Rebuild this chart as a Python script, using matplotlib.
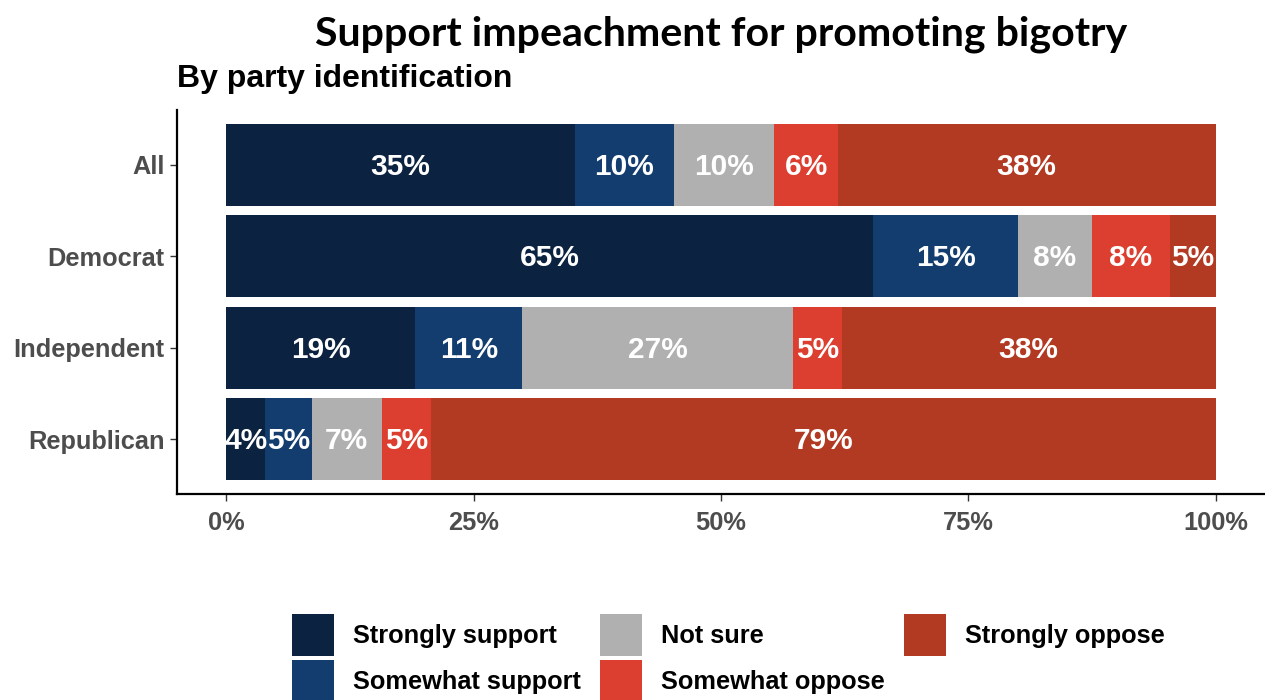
import matplotlib
matplotlib.use("Agg")
import matplotlib.pyplot as plt
from matplotlib.patches import Patch
import numpy as np

categories = ["All", "Democrat", "Independent", "Republican"]
responses = ["Strongly support", "Somewhat support", "Not sure", "Somewhat oppose", "Strongly oppose"]
strongly_support = [35.2, 65.4, 19.1, 3.9]
somewhat_support = [10.0, 14.6, 10.8, 4.7]
not_sure = [10.2, 7.5, 27.4, 7.1]
somewhat_oppose = [6.4, 7.9, 4.9, 5.0]
strongly_oppose = [38.2, 4.6, 37.8, 79.3]
colors = ["#0b2240", "#123d6e", "#b0b0b0", "#dc3e2f", "#b33a22"]

series = [strongly_support, somewhat_support, not_sure, somewhat_oppose, strongly_oppose]

plt.rcParams['font.family'] = ['Liberation Sans', 'DejaVu Sans']

fig = plt.figure(figsize=(12.65, 7), dpi=100)
ax = fig.add_axes([177/1265, 1-494/700, 1-177/1265, (494-110)/700])

y = np.arange(len(categories))[::-1]
left = np.zeros(len(categories))
for vals, col, name in zip(series, colors, responses):
    v = np.array(vals) / 100.0
    ax.barh(y, v, left=left, height=0.9, color=col, label=name, edgecolor='none')
    for yi, li, vi, raw in zip(y, left, v, vals):
        ax.text(li + vi/2, yi - 0.02, f"{round(raw):.0f}%", ha='center', va='center',
                color='white', fontsize=21.5, fontweight='bold')
    left = left + v

ax.set_xlim(-0.05, 1.05)
ax.set_ylim(-0.6, 3.6)
ax.set_yticks(y)
ax.set_yticklabels(categories)
ax.set_xticks([0, 0.25, 0.5, 0.75, 1.0])
ax.set_xticklabels(["0%", "25%", "50%", "75%", "100%"])
for lab in ax.get_xticklabels() + ax.get_yticklabels():
    lab.set_fontweight('bold')
    lab.set_color('#4d4d4d')
    lab.set_fontsize(18.3)
ax.tick_params(axis='both', length=5, width=1, color='#333333')
ax.tick_params(axis='x', pad=7)
ax.tick_params(axis='y', pad=4)
for s in ['top', 'right']:
    ax.spines[s].set_visible(False)
for s in ['left', 'bottom']:
    ax.spines[s].set_linewidth(1.6)
    ax.spines[s].set_color('black')

fig.text(721/1265, 1-34/700, "Support impeachment for promoting bigotry",
         ha='center', va='center', fontsize=29.6, fontweight='bold', family=['Lato', 'DejaVu Sans'])
fig.text(177/1265, 1-79/700, "By party identification", ha='left', va='center',
         fontsize=23, fontweight='bold')

handles = [Patch(facecolor=c, edgecolor='none', label=r) for c, r in zip(colors, responses)]
fig.legend(handles=handles, loc='upper left', bbox_to_anchor=(292/1265, 1-614/700),
           ncol=3, frameon=False, prop={'weight': 'bold', 'size': 18.3},
           handlelength=1.65, handleheight=2.16, handletextpad=0.75, labelspacing=0.16,
           columnspacing=0.75, borderpad=0, borderaxespad=0)

fig.savefig("out.png", dpi=100)
